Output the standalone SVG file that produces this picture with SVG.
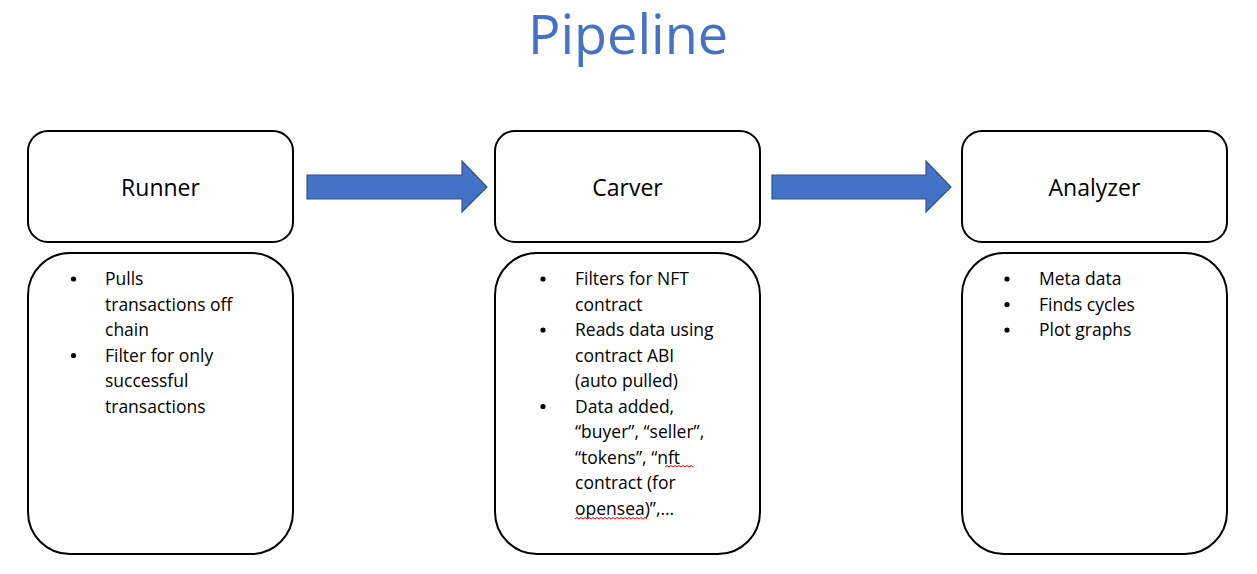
<svg xmlns="http://www.w3.org/2000/svg" width="1257" height="574" viewBox="0 0 1257 574">
<defs>
<style>
.box{fill:#fff;stroke:#000;stroke-width:2}
.lbl{font-family:"Open Sans","Liberation Sans",sans-serif;font-size:23px;fill:#000;text-anchor:middle}
.t{font-family:"Open Sans","Liberation Sans",sans-serif;font-size:17.5px;fill:#000}
.b{fill:#000}
.arrow{fill:#4472C4;stroke:#2F528F;stroke-width:1.2}
.sq{fill:none;stroke:#e00;stroke-width:1}
</style>
</defs>
<rect width="1257" height="574" fill="#fff"/>
<text x="628" y="54" font-family="'Open Sans','Liberation Sans',sans-serif" font-size="54" fill="#4472C4" text-anchor="middle">Pipeline</text>
<g id="connectors">
<path class="arrow" d="M307,175 H462 V161 L487,187 L462,212 V199 H307 Z"/>
<path class="arrow" d="M772,175 H926 V161 L951,187 L926,212 V199 H772 Z"/>
</g>
<g id="runner">
<rect class="box" x="28" y="131" width="265" height="111" rx="20"/>
<text class="lbl" x="160.5" y="196">Runner</text>
</g>
<g id="runner-details">
<rect class="box" x="28" y="253" width="265" height="301" rx="42"/>
<circle class="b" cx="73.5" cy="279" r="2.6"/>
<circle class="b" cx="73.5" cy="355.5" r="2.6"/>
<g class="t">
<text x="105" y="285">Pulls</text>
<text x="105" y="310.5">transactions off</text>
<text x="105" y="336">chain</text>
<text x="105" y="361.5">Filter for only</text>
<text x="105" y="387">successful</text>
<text x="105" y="412.5">transactions</text>
</g>
</g>
<g id="carver">
<rect class="box" x="495" y="131" width="265" height="111" rx="20"/>
<text class="lbl" x="627.5" y="196">Carver</text>
</g>
<g id="carver-details">
<rect class="box" x="495" y="253" width="265" height="301" rx="42"/>
<circle class="b" cx="543" cy="279" r="2.6"/>
<circle class="b" cx="543" cy="330" r="2.6"/>
<circle class="b" cx="543" cy="406.5" r="2.6"/>
<g class="t">
<text x="575" y="285">Filters for NFT</text>
<text x="575" y="310.5">contract</text>
<text x="575" y="336">Reads data using</text>
<text x="575" y="361.5">contract ABI</text>
<text x="575" y="387">(auto pulled)</text>
<text x="575" y="412.5">Data added,</text>
<text x="575" y="438">“buyer”, “seller”,</text>
<text x="575" y="463.5">“tokens”, “nft</text>
<text x="575" y="489">contract (for</text>
<text x="575" y="514.5">opensea)”,…</text>
</g>
<path class="sq" d="M665,467 l2,-1.5 l2,1.5 l2,-1.5 l2,1.5 l2,-1.5 l2,1.5 l2,-1.5 l2,1.5 l2,-1.5 l2,1.5 l2,-1.5 l2,1.5 l2,-1.5 l2,1.5"/>
<path class="sq" d="M575,519 l2,-1.5 l2,1.5 l2,-1.5 l2,1.5 l2,-1.5 l2,1.5 l2,-1.5 l2,1.5 l2,-1.5 l2,1.5 l2,-1.5 l2,1.5 l2,-1.5 l2,1.5 l2,-1.5 l2,1.5 l2,-1.5 l2,1.5 l2,-1.5 l2,1.5 l2,-1.5 l2,1.5 l2,-1.5 l2,1.5 l2,-1.5 l2,1.5 l2,-1.5 l2,1.5 l2,-1.5 l2,1.5 l2,-1.5 l2,1.5 l2,-1.5 l2,1.5 l2,-1.5 l2,1.5"/>
</g>
<g id="analyzer">
<rect class="box" x="962" y="131" width="265" height="111" rx="20"/>
<text class="lbl" x="1094.5" y="196">Analyzer</text>
</g>
<g id="analyzer-details">
<rect class="box" x="962" y="253" width="265" height="301" rx="42"/>
<circle class="b" cx="1007" cy="279" r="2.6"/>
<circle class="b" cx="1007" cy="304.5" r="2.6"/>
<circle class="b" cx="1007" cy="330" r="2.6"/>
<g class="t">
<text x="1039" y="285">Meta data</text>
<text x="1039" y="310.5">Finds cycles</text>
<text x="1039" y="336">Plot graphs</text>
</g>
</g>
</svg>
